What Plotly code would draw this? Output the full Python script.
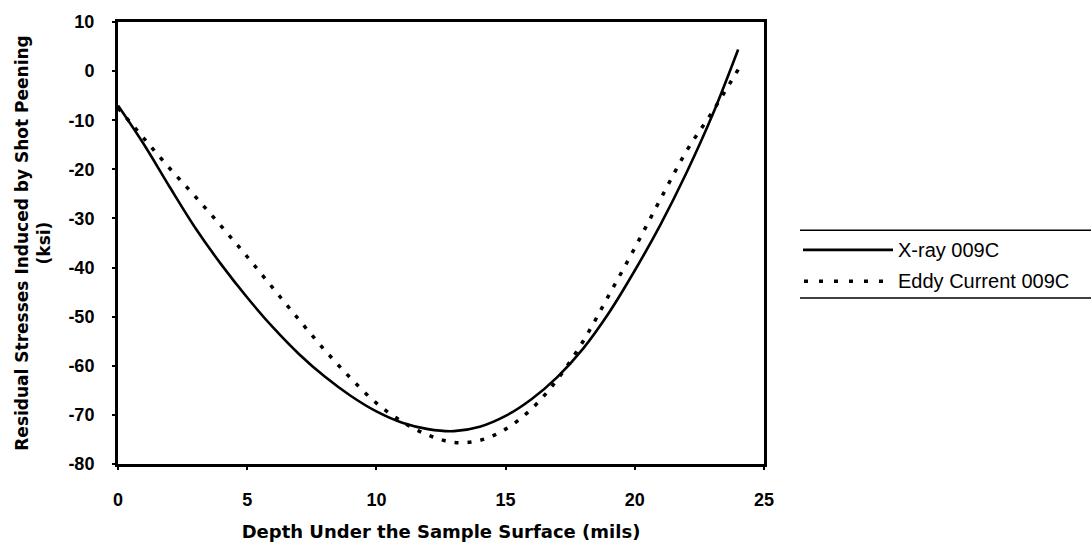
import plotly.graph_objects as go

# Data
depth = [0, 1, 2, 3, 4, 5, 6, 7, 8, 9, 10, 11, 12, 13, 14, 15, 16, 17, 18, 19, 20, 21, 22, 23, 24]
xray = [-7.0, -14.9, -23.6, -32.0, -39.4, -46.1, -52.2, -57.6, -62.2, -66.1, -69.3, -71.6, -72.9,
        -73.3, -72.4, -70.2, -66.8, -62.3, -56.5, -49.2, -40.6, -31.2, -20.7, -9.0, 4.4]
eddy = [-7.5, -13.7, -19.8, -25.6, -31.6, -37.8, -44.2, -50.6, -56.8, -62.5, -67.6, -71.4, -74.1,
        -75.6, -75.2, -72.9, -68.8, -62.8, -55.0, -45.6, -36.0, -26.0, -16.3, -8.3, 0.3]
series_names = ["X-ray 009C", "Eddy Current 009C"]
x_ticks = [0, 5, 10, 15, 20, 25]
y_ticks = [10, 0, -10, -20, -30, -40, -50, -60, -70, -80]
y_ticktext = ["10", "0", "-10", "-20", "-30", "-40", "-50", "-60", "-70", "-80"]

W, H = 1091, 551
L, R, T, B = 118, W - 764, 16, H - 466
FONT = "Liberation Sans, Arial, sans-serif"
TITLE_FONT = "DejaVu Sans, sans-serif"

fig = go.Figure()
fig.add_trace(go.Scatter(x=depth, y=xray, mode="lines", name=series_names[0],
                         line=dict(color="black", width=2.6, shape="spline"), showlegend=False))
fig.add_trace(go.Scatter(x=depth, y=eddy, mode="lines", name=series_names[1],
                         line=dict(color="black", width=3.5, dash="4px,9px", shape="spline"),
                         showlegend=False))

def px_x(p):
    return (p - L) / (W - L - R)

def px_y(p):
    return (H - B - p) / (H - T - B)

# manual legend with rules above and below
shapes = []
for yy in (228, 297):
    shapes.append(dict(type="line", xref="paper", yref="paper", x0=px_x(800), x1=px_x(1091),
                       y0=px_y(yy), y1=px_y(yy), line=dict(color="black", width=1.5)))
shapes.append(dict(type="line", xref="paper", yref="paper", x0=px_x(803), x1=px_x(893),
                   y0=px_y(248), y1=px_y(248), line=dict(color="black", width=2.6)))
shapes.append(dict(type="line", xref="paper", yref="paper", x0=px_x(804), x1=px_x(893),
                   y0=px_y(280), y1=px_y(280), line=dict(color="black", width=3.5, dash="4px,11px")))
annotations = []
for name, yy in zip(series_names, (248, 280)):
    annotations.append(dict(text=name, xref="paper", yref="paper", x=px_x(896), y=px_y(yy),
                            xanchor="left", yanchor="middle", showarrow=False,
                            font=dict(family=FONT, size=20, color="black")))

fig.update_layout(
    width=W, height=H,
    margin=dict(l=L, r=R, t=T, b=B, pad=0),
    paper_bgcolor="white", plot_bgcolor="white",
    shapes=shapes, annotations=annotations,
    showlegend=False,
    font=dict(family=FONT, color="black"),
)
fig.update_xaxes(range=[0, 25], tickvals=x_ticks, showgrid=False, zeroline=False,
                 showline=True, linecolor="black", linewidth=3, mirror=True,
                 ticks="outside", ticklen=3, tickwidth=1.5, tickcolor="black",
                 ticklabelstandoff=14,
                 tickfont=dict(family=FONT, size=18, weight="bold"),
                 title=dict(text="<b>Depth Under the Sample Surface (mils)</b>",
                            font=dict(family=TITLE_FONT, size=18), standoff=17))
fig.update_yaxes(range=[-80, 10], tickvals=y_ticks, ticktext=y_ticktext,
                 showgrid=False, zeroline=False,
                 showline=True, linecolor="black", linewidth=3, mirror=True,
                 ticks="outside", ticklen=3, tickwidth=1.5, tickcolor="black",
                 ticklabelstandoff=14,
                 tickfont=dict(family=FONT, size=18, weight="bold"),
                 title=dict(text="<b>Residual Stresses Induced by Shot Peening<br>(ksi)</b>",
                            font=dict(family=TITLE_FONT, size=17), standoff=14))

fig.write_html("out.html")
